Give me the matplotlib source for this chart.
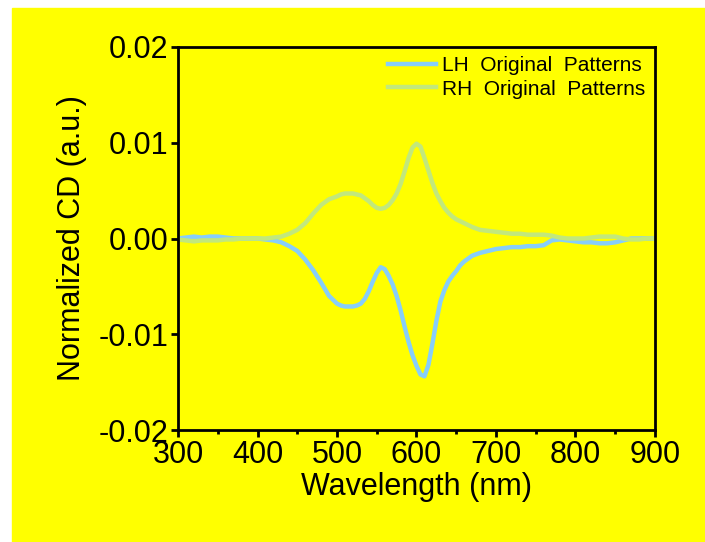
import numpy as np
import matplotlib.pyplot as plt
from matplotlib.patches import Rectangle
from matplotlib.ticker import MultipleLocator

plt.rcParams['font.family'] = ['Liberation Sans', 'DejaVu Sans']

# Wavelength grid (nm): 10 nm steps on the flat parts, 5 nm around the peaks
wavelength = list(range(300, 500, 10)) + list(range(500, 665, 5)) + list(range(670, 901, 10))

lh_cd = [
    # 300 - 490
    0.0000, 0.0001, 0.0002, 0.0001, 0.0002, 0.0002, 0.0001, 0.0000, 0.0000, 0.0000,
    0.0000, -0.0001, -0.0002, -0.0004, -0.0008, -0.0013, -0.0022, -0.0033, -0.0046, -0.0060,
    # 500 - 660 (5 nm)
    -0.0068, -0.0070, -0.0071, -0.0071, -0.0071, -0.0070, -0.0068, -0.0063, -0.0055, -0.0045,
    -0.0036, -0.0030, -0.0032, -0.0039, -0.0048, -0.0060, -0.0075, -0.0092, -0.0108, -0.0122,
    -0.0133, -0.0142, -0.0144, -0.0132, -0.0110, -0.0086, -0.0066, -0.0054, -0.0045, -0.0039,
    -0.0034, -0.0028, -0.0024,
    # 670 - 900
    -0.0018, -0.0015, -0.0013, -0.0011, -0.0010, -0.0009, -0.0009, -0.0008, -0.0008, -0.0007,
    -0.0002, -0.0001, -0.0002, -0.0003, -0.0004, -0.0004, -0.0005, -0.0005, -0.0004, -0.0002,
    0.0000, 0.0000, 0.0000, 0.0000,
]

rh_cd = [
    # 300 - 490
    -0.0001, -0.0002, -0.0003, -0.0002, -0.0002, -0.0002, -0.0001, -0.0001, 0.0000, 0.0000,
    0.0000, 0.0000, 0.0001, 0.0002, 0.0005, 0.0009, 0.0016, 0.0026, 0.0035, 0.0041,
    # 500 - 660 (5 nm)
    0.0044, 0.0046, 0.0047, 0.0047, 0.0047, 0.0046, 0.0045, 0.0042, 0.0039, 0.0035,
    0.0032, 0.0031, 0.0032, 0.0035, 0.0040, 0.0047, 0.0057, 0.0070, 0.0084, 0.0095,
    0.0099, 0.0096, 0.0084, 0.0071, 0.0058, 0.0047, 0.0039, 0.0032, 0.0027, 0.0023,
    0.0020, 0.0018, 0.0016,
    # 670 - 900
    0.0012, 0.0009, 0.0008, 0.0007, 0.0006, 0.0005, 0.0005, 0.0004, 0.0004, 0.0004,
    0.0003, 0.0001, 0.0000, 0.0000, 0.0000, 0.0001, 0.0002, 0.0002, 0.0002, 0.0000,
    -0.0001, -0.0001, 0.0000, 0.0000,
]

labels = ['LH  Original  Patterns', 'RH  Original  Patterns']
colors = ['#87CEFA', '#C2E87C']

fig = plt.figure(figsize=(7.05, 5.42), dpi=100, facecolor='white')
# yellow panel behind the plot
fig.patches.append(Rectangle((12 / 705, 0), 1 - 12 / 705, 1 - 8 / 542,
                             transform=fig.transFigure, color='yellow', zorder=-10))
ax = fig.add_axes([178 / 705, 1 - 430 / 542, 477 / 705, 383 / 542])
ax.set_facecolor('yellow')

ax.plot(wavelength, lh_cd, color=colors[0], lw=3.2, label=labels[0])
ax.plot(wavelength, rh_cd, color=colors[1], lw=3.2, label=labels[1])

ax.set_xlim(300, 900)
ax.set_ylim(-0.02, 0.02)
ax.xaxis.set_major_locator(MultipleLocator(100))
ax.xaxis.set_minor_locator(MultipleLocator(50))
ax.yaxis.set_major_locator(MultipleLocator(0.01))
ax.yaxis.set_major_formatter(plt.FormatStrFormatter('%.2f'))

for s in ax.spines.values():
    s.set_linewidth(2)
ax.tick_params(which='major', direction='out', length=5, width=2, labelsize=22, pad=2)
ax.tick_params(which='minor', direction='out', length=3, width=2)

ax.set_xlabel('Wavelength (nm)', fontsize=22, labelpad=2)
ax.set_ylabel('Normalized CD (a.u.)', fontsize=22, labelpad=8)

ax.legend(loc='upper right', frameon=False, fontsize=15, handlelength=2.3,
          handletextpad=0.3, labelspacing=0.2, borderaxespad=0.05)

fig.savefig('out.png', dpi=100, facecolor='white')
